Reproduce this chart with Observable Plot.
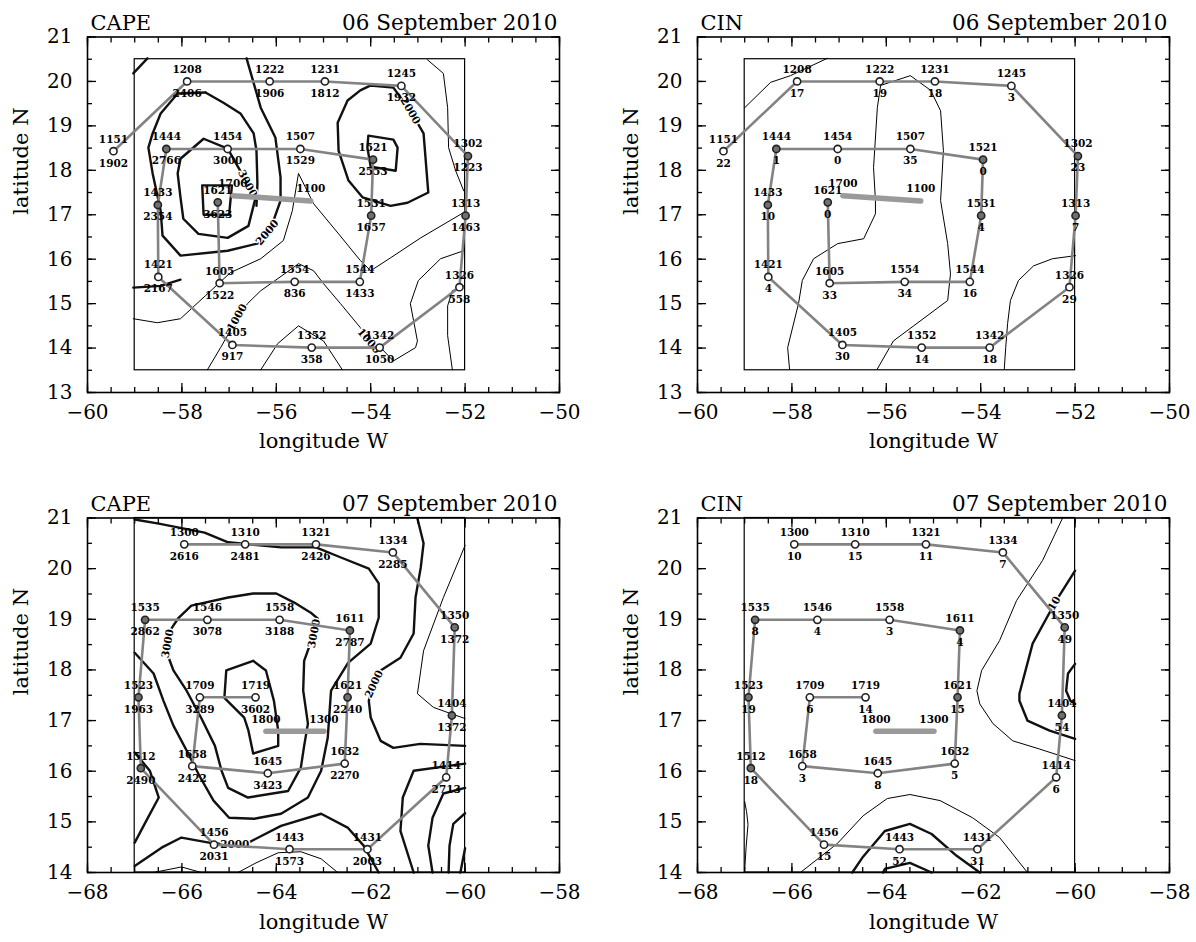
<!DOCTYPE html>
<html><head><meta charset="utf-8">
<script src="https://cdn.jsdelivr.net/npm/d3@7"></script>
<script src="https://cdn.jsdelivr.net/npm/@observablehq/plot@0.6"></script>
<style>
body{margin:0;background:#fff;}
#wrap{position:relative;width:1196px;height:942px;overflow:hidden;background:#fff;}
#wrap > svg{position:absolute;}
</style></head><body><div id="wrap"></div>
<script>
// ---------- 06 September 2010 ----------
const times06 = ["1151","1208","1222","1231","1245","1302","1313","1326","1342","1352","1405","1421","1433","1444","1454","1507","1521","1531","1544","1554","1605","1621"];
const lon06 = [-59.45,-57.89,-56.14,-54.97,-53.35,-51.94,-51.99,-52.12,-53.81,-55.25,-56.93,-58.50,-58.51,-58.33,-57.03,-55.49,-53.95,-53.99,-54.23,-55.61,-57.20,-57.24];
const lat06 = [18.43,20.0,20.0,20.0,19.9,18.32,16.98,15.37,14.01,14.01,14.07,15.60,17.22,18.48,18.48,18.48,18.24,16.98,15.49,15.49,15.46,17.28];
const cape06 = [1902,2406,1906,1812,1932,1223,1463,558,1050,358,917,2167,2354,2766,3000,1529,2553,1657,1433,836,1522,3623];
const cin06 = [22,17,19,18,3,23,7,29,18,14,30,4,10,1,0,35,0,4,16,34,33,0];
const filled06 = ["1433","1444","1521","1621","1302","1313","1531"];
const barLon06 = [-56.92,-55.27];
const barLat06 = [17.43,17.31];
const barText06 = ["1700","1100"];
const box06Lon = [-59,-52];
const box06Lat = [13.5,20.5];

const capeThick06 = [
  [[-59.03,20.18],[-58.73,20.52]],
  [[-58.03,18.26],[-57.54,18.71],[-57.03,18.49],[-56.61,17.70],[-56.44,17.38],[-56.59,16.75],[-57.03,16.48],[-57.65,16.57],[-57.97,16.91],[-58.03,17.39],[-58.09,17.93],[-58.03,18.26]],
  [[-57.57,17.66],[-56.94,17.66],[-57.0,17.0],[-57.54,17.0],[-57.57,17.66]],
  [[-56.63,20.52],[-56.33,19.41],[-56.02,18.74],[-55.91,17.84],[-55.91,17.32],[-56.06,16.87],[-56.33,16.37],[-57.03,16.19],[-58.03,16.08],[-58.41,16.53],[-58.45,17.09],[-58.62,17.93],[-58.71,18.51],[-58.62,18.83],[-58.45,19.28],[-58.09,19.73],[-57.50,19.75]],
  [[-57.50,19.75],[-57.12,19.52],[-56.76,19.28],[-56.48,18.83],[-56.42,18.44],[-56.40,17.70],[-56.42,17.20]],
  [[-54.05,18.78],[-53.52,18.69],[-53.43,18.51],[-53.47,17.99],[-54.0,18.08],[-54.07,18.51],[-54.05,18.78]],
  [[-54.0,19.91],[-53.52,19.86],[-53.16,19.34],[-52.88,18.83],[-52.78,17.5],[-53.22,17.27],[-53.58,17.2],[-54.17,17.39],[-54.47,17.77],[-54.68,18.44],[-54.7,19.07],[-54.49,19.57],[-54.22,19.8],[-54.0,19.91]],
  [[-59.03,15.36],[-58.45,15.40],[-58.03,15.54]]
];
const capeThin06 = [
  [[-59.03,14.66],[-58.52,14.57],[-58.03,14.66],[-57.50,15.18],[-56.97,15.70],[-56.33,16.01],[-55.85,16.42],[-55.66,17.09],[-55.53,17.93],[-55.38,17.61],[-55.21,17.25],[-54.68,16.57],[-54.22,15.97],[-54.0,15.74],[-53.58,16.03],[-52.94,16.48],[-52.03,17.05]],
  [[-57.46,13.51],[-57.18,14.01],[-56.82,14.68],[-56.61,15.0],[-56.33,15.29],[-55.64,15.81],[-55.53,15.90],[-55.21,15.74],[-55.0,15.45],[-54.64,15.0],[-54.22,14.46],[-54.05,14.16],[-53.79,14.01],[-53.52,13.71],[-53.05,14.01],[-53.01,14.16],[-53.16,15.0],[-52.99,15.52],[-52.52,16.01],[-52.03,16.19]],
  [[-56.33,13.51],[-55.97,14.10],[-55.53,14.50],[-55.0,14.16],[-54.60,13.51]],
  [[-52.80,20.49],[-52.46,20.18],[-52.37,19.41],[-52.35,18.51],[-52.20,17.99],[-52.03,17.54]],
  [[-52.03,15.40],[-52.27,15.29],[-52.37,14.95],[-52.37,14.28],[-52.27,13.51]]
];
const capeLab06Lon = [-56.61,-56.19,-53.16,-56.83,-54.04];
const capeLab06Lat = [17.70,16.60,19.34,14.69,14.16];
const capeLab06Text = ["3000","2000","2000","1000","1000"];
const capeLab06Rot = [62,-50,60,-60,50];

const cinThin06 = [
  [[-59.0,19.41],[-58.45,19.98],[-58.03,20.13],[-57.25,20.52]],
  [[-58.05,13.53],[-58.09,14.01],[-57.86,15.0],[-57.78,15.52],[-57.54,16.01],[-57.03,16.35],[-56.48,16.46],[-56.23,17.02],[-56.23,17.32],[-56.27,18.06],[-56.19,19.41],[-56.12,19.91],[-55.49,20.13],[-55.06,19.80],[-54.85,19.34],[-54.79,18.44],[-54.85,17.32],[-54.70,16.35],[-54.64,15.67],[-54.70,15.07],[-55.42,14.50],[-55.85,14.16],[-56.19,13.53]],
  [[-51.99,16.08],[-52.48,16.01],[-52.88,15.85],[-53.20,15.52],[-53.37,15.07],[-53.43,14.55],[-53.47,14.01],[-53.50,13.53]]
];

// ---------- 07 September 2010 ----------
const times07 = ["1300","1310","1321","1334","1350","1404","1414","1431","1443","1456","1512","1523","1535","1546","1558","1611","1621","1632","1645","1658","1709","1719"];
const lon07 = [-65.95,-64.66,-63.16,-61.53,-60.22,-60.28,-60.40,-62.07,-63.72,-65.32,-66.87,-66.92,-66.78,-65.46,-63.93,-62.44,-62.49,-62.55,-64.18,-65.78,-65.62,-64.44];
const lat07 = [20.48,20.48,20.48,20.32,18.84,17.10,15.88,14.46,14.46,14.55,16.06,17.46,18.99,18.99,18.99,18.78,17.46,16.15,15.96,16.10,17.46,17.46];
const cape07 = [2616,2481,2426,2285,1372,1372,2713,2003,1573,2031,2490,1963,2862,3078,3188,2787,2240,2270,3423,2422,3289,3602];
const cin07 = [10,15,11,7,49,54,6,31,52,15,18,19,8,4,3,4,15,5,8,3,6,14];
const filled07 = ["1523","1535","1611","1621","1350","1404","1512"];
const barLon07 = [-64.22,-62.99];
const barLat07 = [16.79,16.79];
const barText07 = ["1800","1300"];
const box07Lon = [-67,-60];
const box07Lat = [14,21];

const capeThick07 = [
  [[-65.06,17.99],[-64.49,18.18],[-64.22,17.99],[-64.05,17.39],[-63.96,16.80],[-63.96,16.50],[-64.49,16.35],[-64.59,16.80],[-64.68,17.06],[-65.10,17.45],[-65.06,17.99]],
  [[-66.22,18.82],[-66.07,19.03],[-65.80,19.27],[-65.02,19.43],[-64.49,19.51],[-64.0,19.51],[-63.62,19.33],[-63.27,19.13],[-63.12,19.01],[-63.20,18.72],[-63.31,18.44],[-63.41,18.18],[-63.43,17.59],[-63.33,16.94],[-63.41,16.50],[-63.48,16.07],[-63.75,15.61],[-64.60,15.48],[-65.02,15.67],[-65.16,16.01],[-65.30,16.50],[-65.58,17.03],[-65.90,17.59],[-66.18,17.99],[-66.28,18.24],[-66.30,18.52],[-66.22,18.82]],
  [[-67.0,20.97],[-66.49,20.89],[-65.52,20.71],[-65.02,20.52],[-63.90,20.42],[-63.16,20.42],[-62.63,20.22],[-62.04,20.0],[-61.83,19.71],[-61.83,19.03],[-62.0,18.52],[-62.48,18.14],[-62.84,17.59],[-62.91,16.66],[-63.05,16.01],[-63.33,15.48],[-63.90,15.16],[-64.47,15.06],[-65.0,15.08],[-65.33,15.42],[-65.63,15.91],[-65.90,16.41],[-66.18,16.90],[-66.39,17.39],[-66.60,17.93],[-67.0,18.34]],
  [[-67.0,16.37],[-66.68,16.01],[-66.49,15.48],[-66.75,15.03],[-67.0,14.59]],
  [[-67.0,14.13],[-66.43,14.49],[-66.01,14.69],[-65.31,14.57],[-64.59,14.59],[-63.90,14.92],[-63.05,15.16],[-62.48,14.88],[-62.15,14.53],[-61.83,14.0]],
  [[-61.01,20.99],[-60.88,20.50],[-60.94,20.02],[-61.05,19.43],[-61.09,18.72],[-61.37,18.24],[-61.79,17.99],[-61.94,17.73],[-62.04,17.39],[-62.0,17.06],[-61.79,16.60],[-61.52,16.46],[-60.95,16.54],[-60.0,16.50]],
  [[-60.0,16.15],[-61.09,16.01],[-61.32,15.48],[-61.37,14.82],[-61.09,14.0]],
  [[-60.0,15.67],[-60.46,15.56],[-60.69,15.08],[-60.78,14.53],[-60.69,14.0]],
  [[-60.0,15.17],[-60.25,14.96],[-60.33,14.53],[-60.35,14.0]],
  [[-60.0,14.48],[-60.10,14.0]]
];
const capeThin07 = [
  [[-60.0,20.46],[-60.46,19.43],[-60.88,18.38],[-61.01,17.53],[-60.67,17.26],[-60.31,17.14],[-60.0,17.04]],
  [[-64.81,14.0],[-64.43,14.19],[-63.96,14.39],[-63.48,14.41],[-63.05,14.27],[-62.70,14.0]],
  [[-66.60,14.0],[-66.01,14.11],[-65.59,14.0]]
];
const capeLab07Lon = [-66.30,-63.20,-61.93,-64.88];
const capeLab07Lat = [18.52,18.72,17.72,14.56];
const capeLab07Text = ["3000","3000","2000","2000"];
const capeLab07Rot = [-80,-80,-65,0];

const cinThick07 = [
  [[-64.72,14.0],[-64.51,14.29],[-64.03,14.82],[-63.50,14.96],[-63.04,14.76],[-62.51,14.33],[-62.02,14.0]],
  [[-64.07,14.0],[-64.03,14.07],[-63.50,14.19],[-63.04,14.0]],
  [[-60.0,19.96],[-60.40,19.37],[-60.90,18.52],[-61.18,17.53],[-61.18,17.39],[-61.01,17.0],[-60.54,16.80],[-60.0,16.64]],
  [[-60.0,18.12],[-60.15,17.93],[-60.19,17.59],[-60.10,17.39],[-60.0,17.33]]
];
const cinThin07 = [
  [[-65.82,14.0],[-65.04,14.57],[-64.49,15.12],[-63.98,15.46],[-63.50,15.54],[-62.86,15.42],[-62.17,15.08],[-61.60,14.69],[-61.01,14.0]],
  [[-60.27,20.99],[-60.69,20.16],[-61.24,19.37],[-61.60,18.58],[-61.98,17.99],[-62.08,17.59],[-62.02,17.33],[-61.74,16.94],[-61.32,16.60],[-60.76,16.44],[-60.0,16.21]],
  [[-67.0,15.40],[-66.96,15.2],[-66.93,14.95],[-66.97,14.5],[-67.0,14.05]]
];
const cinLab07Lon = [-60.44];
const cinLab07Lat = [19.31];
const cinLab07Text = ["10"];
const cinLab07Rot = [-60];

// ---------- drawing ----------
const FONT = "DejaVu Serif";
const fmtTick = d => String(d).replace("-", "\u2212");
function toRows(lines) {
  return lines.flatMap((line, k) => line.map(([lon, lat]) => ({lon, lat, k})));
}
function panel(cfg) {
  const pts = cfg.times.map((t, i) => ({t, lon: cfg.lon[i], lat: cfg.lat[i], v: String(cfg.vals[i]), f: cfg.filled.includes(t)}));
  const bar = cfg.barLon.map((lon, i) => ({lon, lat: cfg.barLat[i], t: cfg.barText[i]}));
  const labs = (cfg.labLon || []).map((lon, i) => ({lon, lat: cfg.labLat[i], t: cfg.labText[i], r: cfg.labRot[i]}));
  const [x0, x1] = cfg.xdom, [y0, y1] = cfg.ydom;
  const xMaj = d3.range(x0, x1 + 0.01, 2), xMin = d3.range(x0, x1 + 0.01, 0.5);
  const yMaj = d3.range(y0, y1 + 0.01, 1), yMin = d3.range(y0, y1 + 0.01, 0.5);
  const empty = () => "";
  const tick = (fn, anchor, ticks, size) => fn({anchor, ticks, tickSize: -size, tickFormat: empty, label: null, strokeWidth: 1.3});
  const svg = Plot.plot({
    width: cfg.width, height: cfg.height,
    marginLeft: 87, marginRight: cfg.width - 87 - 472, marginTop: 36.5, marginBottom: cfg.height - 36.5 - cfg.frameH,
    x: {domain: cfg.xdom},
    y: {domain: cfg.ydom},
    style: {fontFamily: FONT, background: "white", color: "black", overflow: "visible"},
    marks: [
      Plot.rect([0], {x1: () => cfg.boxLon[0], x2: () => cfg.boxLon[1], y1: () => cfg.boxLat[0], y2: () => cfg.boxLat[1], fill: "none", stroke: "black", strokeWidth: 1.2}),
      Plot.line(toRows(cfg.thin), {x: "lon", y: "lat", z: "k", stroke: "black", strokeWidth: 1, curve: "linear"}),
      Plot.line(toRows(cfg.thick), {x: "lon", y: "lat", z: "k", stroke: "#111", strokeWidth: 2.4, strokeLinejoin: "round"}),
      Plot.text(labs, {x: "lon", y: "lat", text: "t", rotate: "r", fontSize: 10.5, fontWeight: "bold", fill: "black", stroke: "white", strokeWidth: 3}),
      Plot.line(pts, {x: "lon", y: "lat", stroke: "#838383", strokeWidth: 2.6, strokeLinejoin: "round"}),
      Plot.line(bar, {x: "lon", y: "lat", stroke: "#9a9a9a", strokeWidth: 5.5, strokeLinecap: "round"}),
      Plot.text(bar, {x: "lon", y: "lat", text: "t", dy: -12, fontSize: 10.5, fontWeight: "bold", fill: "black"}),
      Plot.dot(pts, {x: "lon", y: "lat", r: 3.6, stroke: "#222", strokeWidth: 1.6, fill: d => d.f ? "#6f6f6f" : "white"}),
      Plot.text(pts, {x: "lon", y: "lat", text: "t", dy: -12, fontSize: 10.5, fontWeight: "bold", fill: "black"}),
      Plot.text(pts, {x: "lon", y: "lat", text: "v", dy: 12, fontSize: 10.5, fontWeight: "bold", fill: "black"}),
      Plot.frame({stroke: "black", strokeWidth: 1.6}),
      tick(Plot.axisX, "bottom", xMin, 5), tick(Plot.axisX, "bottom", xMaj, 9),
      tick(Plot.axisX, "top", xMin, 5), tick(Plot.axisX, "top", xMaj, 9),
      tick(Plot.axisY, "left", yMin, 5), tick(Plot.axisY, "left", yMaj, 9),
      tick(Plot.axisY, "right", yMin, 5), tick(Plot.axisY, "right", yMaj, 9),
      Plot.axisX({anchor: "bottom", ticks: xMaj, tickSize: 0, tickPadding: 12, fontSize: 20, tickFormat: fmtTick, label: null, letterSpacing: "0.5px"}),
      Plot.axisY({anchor: "left", ticks: yMaj, tickSize: 0, tickPadding: 15, fontSize: 20, tickFormat: fmtTick, label: null, letterSpacing: "0.5px"}),
      Plot.text(["longitude W"], {frameAnchor: "bottom", text: d => d, dy: cfg.xlabDy, fontSize: 21, fill: "black", letterSpacing: "1.1px"}),
      Plot.text(["latitude N"], {frameAnchor: "left", text: d => d, rotate: -90, dx: -66, fontSize: 21, fill: "black", letterSpacing: "1.1px"}),
      Plot.text([cfg.title], {frameAnchor: "top-left", text: d => d, textAnchor: "start", dx: 3, dy: -22, fontSize: 21, fill: "black", letterSpacing: "1.2px"}),
      Plot.text([cfg.date], {frameAnchor: "top-right", text: d => d, textAnchor: "end", dx: -2, dy: -22, fontSize: 21.5, fill: "black", letterSpacing: "1.5px"})
    ]
  });
  svg.style.left = cfg.left + "px";
  svg.style.top = cfg.top + "px";
  return svg;
}
const wrap = document.getElementById("wrap");
const top6 = {xdom: [-60, -50], ydom: [13, 21], boxLon: box06Lon, boxLat: box06Lat, times: times06, lon: lon06, lat: lat06, filled: filled06,
  barLon: barLon06, barLat: barLat06, barText: barText06, date: "06 September 2010", top: 0, height: 471, frameH: 355.5, xlabDy: 55};
const bot7 = {xdom: [-68, -58], ydom: [14, 21], boxLon: box07Lon, boxLat: box07Lat, times: times07, lon: lon07, lat: lat07, filled: filled07,
  barLon: barLon07, barLat: barLat07, barText: barText07, date: "07 September 2010", top: 481, height: 461, frameH: 354.5, xlabDy: 56};
wrap.appendChild(panel({...top6, title: "CAPE", vals: cape06, thick: capeThick06, thin: capeThin06,
  labLon: capeLab06Lon, labLat: capeLab06Lat, labText: capeLab06Text, labRot: capeLab06Rot, left: 0, width: 598}));
wrap.appendChild(panel({...top6, title: "CIN", vals: cin06, thick: [], thin: cinThin06, left: 610, width: 586}));
wrap.appendChild(panel({...bot7, title: "CAPE", vals: cape07, thick: capeThick07, thin: capeThin07,
  labLon: capeLab07Lon, labLat: capeLab07Lat, labText: capeLab07Text, labRot: capeLab07Rot, left: 0, width: 598}));
wrap.appendChild(panel({...bot7, title: "CIN", vals: cin07, thick: cinThick07, thin: cinThin07,
  labLon: cinLab07Lon, labLat: cinLab07Lat, labText: cinLab07Text, labRot: cinLab07Rot, left: 610, width: 586}));
</script></body></html>
